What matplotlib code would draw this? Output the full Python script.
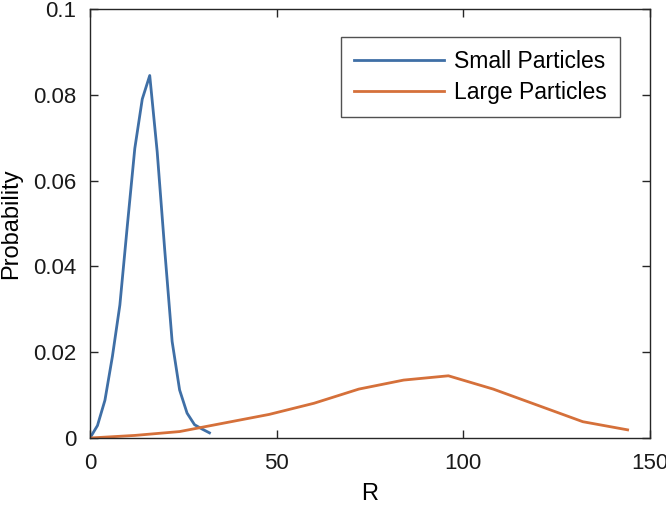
import numpy as np
import matplotlib
matplotlib.use('Agg')
import matplotlib.pyplot as plt

# data
small_r = [0, 2, 4, 6, 8, 10, 12, 14, 16, 18, 20, 22, 24, 26, 28, 30, 32]
small_p = [0.0, 0.0029, 0.0088, 0.019, 0.031, 0.0495, 0.0675, 0.079, 0.0845,
           0.0667, 0.044, 0.0225, 0.0112, 0.0058, 0.0031, 0.0021, 0.0012]
large_r = [0, 12, 24, 36, 48, 60, 72, 84, 96, 108, 120, 132, 144]
large_p = [0.0, 0.0006, 0.0015, 0.0035, 0.0055, 0.0081, 0.0114, 0.0135,
           0.0145, 0.0114, 0.0076, 0.0038, 0.0019]

blue = '#3F6FA6'
orange = '#D5703A'
axcol = '#262626'

plt.rcParams['font.family'] = ['Liberation Sans', 'DejaVu Sans']

fig = plt.figure(figsize=(6.66, 5.05), dpi=100)
ax = fig.add_axes([90/666, 1 - 438/505, 560/666, 429/505])

ax.plot(small_r, small_p, color=blue, lw=2, label='Small Particles')
ax.plot(large_r, large_p, color=orange, lw=2, label='Large Particles')

ax.set_xlim(0, 150)
ax.set_ylim(0, 0.1)
ax.set_xticks([0, 50, 100, 150])
ax.set_yticks([0, 0.02, 0.04, 0.06, 0.08, 0.1])
ax.set_yticklabels(['0', '0.02', '0.04', '0.06', '0.08', '0.1'])
ax.tick_params(direction='in', top=True, right=True, length=6, width=1,
               color=axcol, labelsize=16, labelcolor='#1a1a1a')
ax.tick_params(axis='x', pad=11)
ax.tick_params(axis='y', pad=10)
for s in ax.spines.values():
    s.set_color(axcol)
    s.set_linewidth(1)

ax.set_xlabel('R', fontsize=17, labelpad=6)
ax.set_ylabel('Probability', fontsize=17, labelpad=8)

leg = ax.legend(loc='upper right', fontsize=16.5, frameon=True, fancybox=False,
                edgecolor=axcol, handlelength=3.9, borderpad=0.57,
                borderaxespad=0, bbox_to_anchor=(0.946, 0.935),
                labelspacing=0.37, handletextpad=0.44)
leg.get_frame().set_linewidth(1)

fig.savefig('out.png', dpi=100)
